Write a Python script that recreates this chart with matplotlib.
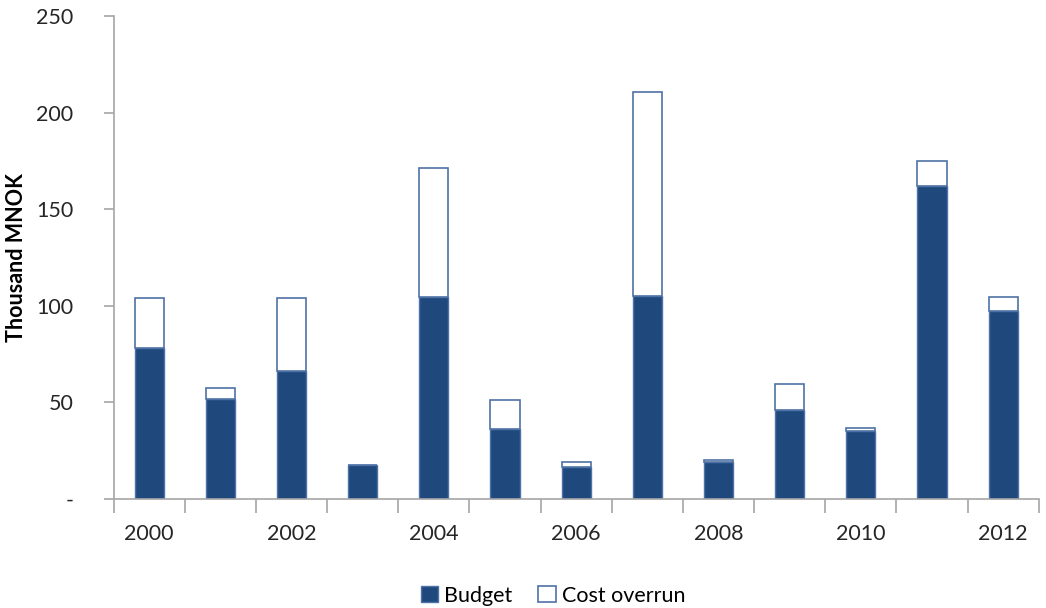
import numpy as np
import matplotlib.pyplot as plt
from matplotlib.ticker import FixedLocator, NullFormatter

years = [2000, 2001, 2002, 2003, 2004, 2005, 2006, 2007, 2008, 2009, 2010, 2011, 2012]
budget = [78.3, 51.8, 66.1, 17.4, 104.2, 36.1, 16.3, 104.9, 19.0, 46.0, 34.9, 161.7, 97.4]
overrun = [25.5, 5.5, 37.7, 0.0, 67.2, 14.9, 2.5, 105.9, 1.0, 13.2, 1.8, 13.0, 7.3]
y_ticks = [0, 50, 100, 150, 200, 250]
y_tick_labels = ["-", "50", "100", "150", "200", "250"]

plt.rcParams['font.family'] = ['Lato', 'DejaVu Sans']

navy = '#1F497D'
edge = '#4F72A6'
grey = '#A6A6A6'
txt = '#262626'

fig = plt.figure(figsize=(10.46, 6.08), dpi=100)
ax = fig.add_axes([0.1086, 0.1798, 0.8844, 0.7939])

x = np.arange(len(years))
w = 0.41
ax.bar(x, budget, w, color=navy, edgecolor=edge, linewidth=1, label='Budget')
ax.bar(x, overrun, w, bottom=budget, color='white', edgecolor=edge,
       linewidth=1.2, label='Cost overrun')

ax.set_xlim(-0.5, len(years) - 0.5)
ax.set_ylim(0, 250)

# tick marks between the categories, labels on every other year
ax.xaxis.set_major_locator(FixedLocator(np.arange(-0.5, len(years), 1.0)))
ax.xaxis.set_major_formatter(NullFormatter())
ax.tick_params(axis='x', which='major', direction='out', length=10, color=grey, width=1.2)
for i, yr in enumerate(years):
    if yr % 2 == 0:
        ax.text(i, -0.052, str(yr), transform=ax.get_xaxis_transform(),
                ha='center', va='top', fontsize=15.5, color=txt)

ax.set_yticks(y_ticks)
ax.set_yticklabels(y_tick_labels, fontsize=15.5, color=txt)
ax.tick_params(axis='y', direction='out', length=7, color=grey, width=1.2, pad=22)

for side in ('top', 'right'):
    ax.spines[side].set_visible(False)
for side in ('left', 'bottom'):
    ax.spines[side].set_color(grey)
    ax.spines[side].set_linewidth(1.2)

fig.text(0.016, 0.577, 'Thousand MNOK', rotation=90, ha='center', va='center',
         fontsize=15.5, fontweight='bold', color='black')

ax.legend(loc='upper center', bbox_to_anchor=(0.475, -0.14), ncol=2, frameon=False,
          fontsize=15.5, handlelength=0.8, handleheight=0.8, handletextpad=0.3,
          columnspacing=1.2)

fig.savefig('out.png', dpi=100)
